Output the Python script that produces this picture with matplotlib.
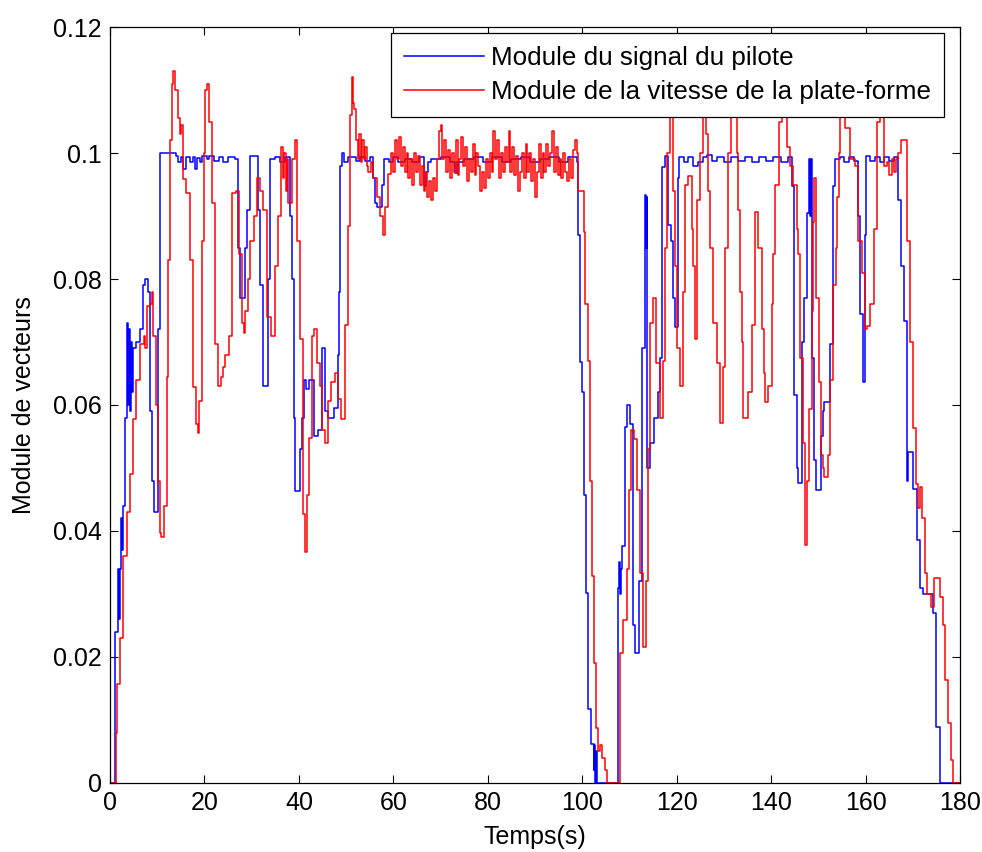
import numpy as np
import matplotlib
matplotlib.use("Agg")
from matplotlib import pyplot as plt

plt.rcParams['font.family'] = ['Liberation Sans', 'DejaVu Sans']

# pilot signal: (time, value) step points
blue_t = [0.0, 1.0, 1.6, 1.9, 2.1, 2.3, 2.6, 2.8, 3.2, 3.6, 3.8, 4.0, 4.2, 4.4, 4.6, 4.8,
          5.6, 6.3, 7.0, 7.4, 8.0, 8.5, 8.8, 9.4, 10.2, 10.6, 13.9, 14.5, 15.0, 15.5,
          16.0, 17.0, 17.5, 18.0, 18.4, 19.0, 19.5, 20.5, 21.0, 22.0, 23.0, 24.0, 25.0,
          26.5, 27.2, 27.5, 28.6, 29.0, 29.7, 31.4, 31.8, 32.3, 33.5, 33.8, 35.0, 36.0,
          37.0, 38.1, 38.5, 38.9, 39.2, 40.2, 40.7, 41.0, 41.5, 42.2, 43.1, 44.0, 44.8,
          45.0, 45.5, 46.2, 47.0, 47.5, 48.3, 48.6, 48.8, 49.2, 49.6, 50.5, 52.0, 53.0,
          54.0, 55.0, 55.8, 56.1, 56.5, 57.5, 58.0, 59.0, 60.0, 61.0, 62.5, 64.0, 65.5,
          66.5, 66.9, 67.3, 68.0, 70.0, 72.0, 73.0, 73.4, 75.0, 77.0, 79.0, 81.0, 83.0,
          85.0, 87.0, 89.0, 91.0, 93.0, 95.0, 97.0, 98.8, 99.2, 99.5, 99.9, 100.4,
          100.8, 101.3, 101.8, 102.4, 102.6, 102.8, 103.0, 103.2, 107.6, 107.8, 108.0,
          108.2, 108.4, 109.1, 109.4, 110.1, 110.7, 111.2, 112.1, 112.6, 113.3, 113.5,
          113.7, 113.8, 114.4, 115.1, 116.0, 116.5, 117.0, 117.5, 118.2, 118.9, 119.3,
          119.6, 120.3, 120.6, 121.5, 122.5, 123.5, 124.5, 125.5, 126.5, 127.5, 128.5,
          130.0, 131.5, 133.0, 134.5, 136.0, 137.5, 139.0, 140.5, 142.0, 143.5, 144.4,
          144.9, 145.4, 145.8, 146.5, 147.0, 147.5, 148.1, 148.3, 148.5, 148.6, 149.0,
          149.6, 150.6, 151.0, 151.3, 152.4, 153.1, 153.5, 154.5, 155.5, 156.5, 157.5,
          158.3, 158.5, 158.8, 159.5, 159.9, 160.1, 161.0, 162.0, 163.0, 164.0, 165.0,
          166.0, 166.9, 167.6, 168.2, 168.7, 169.0, 170.1, 170.8, 171.5, 172.2, 174.3,
          175.0, 175.7, 180.0]
blue_v = [0.0, 0.024, 0.034, 0.026, 0.034, 0.042, 0.037, 0.044, 0.058, 0.073, 0.060, 0.072,
          0.059, 0.070, 0.062, 0.069, 0.070, 0.072, 0.079, 0.080, 0.078, 0.059, 0.048,
          0.043, 0.072, 0.1, 0.0995, 0.0985, 0.0993, 0.0975, 0.0993, 0.0985, 0.0994,
          0.0975, 0.0992, 0.0985, 0.0995, 0.099, 0.0996, 0.0988, 0.0993, 0.0985, 0.0993,
          0.099, 0.085, 0.077, 0.085, 0.091, 0.0995, 0.091, 0.079, 0.063, 0.080, 0.099,
          0.0993, 0.0985, 0.0993, 0.090, 0.080, 0.058, 0.0464, 0.053, 0.058, 0.064,
          0.0625, 0.064, 0.055, 0.056, 0.063, 0.069, 0.059, 0.058, 0.058, 0.0595, 0.068,
          0.078, 0.098, 0.1, 0.0985, 0.0993, 0.0988, 0.0993, 0.0988, 0.0993, 0.096, 0.092,
          0.0914, 0.095, 0.099, 0.0985, 0.0993, 0.0985, 0.099, 0.0985, 0.0993, 0.0947,
          0.097, 0.0985, 0.099, 0.0993, 0.0985, 0.0968, 0.0985, 0.099, 0.0993, 0.0985,
          0.0993, 0.0985, 0.099, 0.0993, 0.0985, 0.099, 0.0993, 0.0985, 0.0993, 0.0985,
          0.087, 0.0668, 0.062, 0.0457, 0.0302, 0.0117, 0.0062, 0.002, 0.006, 0.0, 0.005,
          0.0, 0.031, 0.035, 0.030, 0.034, 0.0376, 0.0565, 0.060, 0.057, 0.025, 0.0206,
          0.032, 0.069, 0.0933, 0.085, 0.093, 0.050, 0.054, 0.058, 0.062, 0.0674, 0.0977,
          0.0995, 0.0886, 0.086, 0.077, 0.0724, 0.096, 0.0993, 0.0985, 0.0993, 0.098,
          0.0985, 0.0993, 0.0997, 0.0988, 0.0993, 0.0985, 0.0993, 0.0988, 0.0993, 0.0985,
          0.0993, 0.0988, 0.0993, 0.0985, 0.0993, 0.0948, 0.0616, 0.050, 0.0476, 0.070,
          0.077, 0.0904, 0.099, 0.090, 0.099, 0.0675, 0.0513, 0.0465, 0.055, 0.059,
          0.0605, 0.0697, 0.0948, 0.099, 0.0993, 0.0985, 0.0993, 0.0988, 0.095, 0.090,
          0.0744, 0.0637, 0.087, 0.0995, 0.0988, 0.0993, 0.0985, 0.0993, 0.0988, 0.0993,
          0.0926, 0.082, 0.0733, 0.048, 0.0526, 0.0467, 0.0385, 0.031, 0.030, 0.027,
          0.0089, 0.0, 0.0]

# platform speed: (time, value) step points
red_t1 = [0.0, 1.2, 1.5, 2.2, 2.8, 3.6, 4.2, 4.9, 5.6, 6.3, 7.1, 7.5, 7.8, 8.5, 8.8, 9.2,
          9.7, 10.2, 10.5, 10.9, 11.5, 12.0, 12.3, 12.7, 13.1, 13.4, 13.8, 14.5, 14.8,
          15.1, 15.5, 16.2, 16.9, 17.6, 18.3, 18.6, 18.8, 19.4, 19.9, 20.2, 20.5, 20.9,
          21.5, 22.2, 22.9, 23.6, 24.0, 24.3, 25.2, 25.9, 26.6, 27.3, 27.9, 28.3, 28.6,
          29.3, 29.7, 30.4, 31.1, 31.8, 32.5, 33.2, 34.2, 34.9, 35.6, 36.3, 36.6, 36.9,
          37.2, 37.5, 37.7, 38.5, 39.1, 39.5, 40.2, 40.8, 41.3, 41.8, 42.2, 42.7, 43.2,
          43.8, 44.5, 45.0, 45.5, 46.2, 46.9, 47.6, 48.3, 49.0, 49.8, 50.3, 50.8, 51.2,
          51.5, 51.7, 52.2, 52.5, 52.8, 53.1, 53.4, 53.7, 54.0, 54.4, 54.7, 55.2, 55.8,
          56.5, 57.2, 57.9, 58.2, 58.9]
red_v1 = [0.0, 0.008, 0.0157, 0.023, 0.036, 0.043, 0.049, 0.0577, 0.064, 0.0697, 0.071,
          0.069, 0.0757, 0.076, 0.078, 0.071, 0.060, 0.048, 0.0397, 0.039, 0.044, 0.0644,
          0.083, 0.102, 0.111, 0.113, 0.110, 0.1056, 0.103, 0.1045, 0.0958, 0.0936, 0.083,
          0.0629, 0.057, 0.0555, 0.0607, 0.0861, 0.100, 0.110, 0.111, 0.105, 0.092,
          0.0697, 0.063, 0.0644, 0.066, 0.068, 0.071, 0.0936, 0.094, 0.084, 0.073, 0.0715,
          0.075, 0.080, 0.086, 0.090, 0.096, 0.094, 0.091, 0.074, 0.071, 0.082, 0.090,
          0.101, 0.096, 0.100, 0.094, 0.099, 0.092, 0.099, 0.102, 0.086, 0.0704, 0.0427,
          0.0367, 0.0457, 0.0547, 0.071, 0.072, 0.0667, 0.063, 0.056, 0.054, 0.0607,
          0.0637, 0.065, 0.061, 0.0577, 0.0727, 0.0884, 0.106, 0.112, 0.108, 0.107, 0.102,
          0.099, 0.103, 0.0985, 0.102, 0.099, 0.101, 0.098, 0.097, 0.0985, 0.096, 0.093,
          0.090, 0.087, 0.0914, 0.0966]

# noisy plateau, sampled every 0.4 s from 59.6 s to 98.8 s
red_plateau_v = [0.100, 0.097, 0.102, 0.099, 0.1025, 0.098, 0.101, 0.097, 0.100,
                 0.096, 0.099, 0.095, 0.100, 0.097, 0.0995, 0.095, 0.098,
                 0.094, 0.097, 0.093, 0.0955, 0.0925, 0.096, 0.094,
                 0.099, 0.1035, 0.1045, 0.099, 0.102, 0.097, 0.1005, 0.096,
                 0.100, 0.097, 0.102, 0.0965, 0.099, 0.1025, 0.098, 0.101, 0.0955, 0.099,
                 0.097, 0.1015, 0.0965, 0.100, 0.098, 0.094, 0.097, 0.0945, 0.099, 0.096,
                 0.100, 0.097, 0.1035, 0.099, 0.102, 0.096, 0.100, 0.097, 0.101, 0.0985,
                 0.1035, 0.097, 0.101, 0.0965, 0.0995, 0.094, 0.097, 0.100, 0.096, 0.1015,
                 0.097, 0.100, 0.0955, 0.099, 0.093, 0.097, 0.1015, 0.096, 0.100, 0.097,
                 0.1015, 0.098, 0.100, 0.1035, 0.097, 0.101, 0.0965, 0.099, 0.096, 0.100,
                 0.097, 0.0955, 0.099, 0.096, 0.1005, 0.102, 0.100]
red_plateau_t = np.linspace(59.6, 98.8, len(red_plateau_v))

red_t2 = [99.2, 99.9, 100.3, 100.6, 101.3, 101.7, 102.0, 102.4, 102.9, 103.4, 103.8, 104.1,
          104.8, 105.3, 108.0, 108.7, 109.4, 109.9, 110.4, 110.9, 111.6, 112.2, 112.9,
          113.6, 113.9, 114.4, 115.0, 115.7, 116.4, 117.1, 117.5, 117.9, 118.6, 119.3,
          119.6, 120.0, 120.7, 121.3, 121.8, 122.5, 123.2, 123.5, 123.9, 124.4, 124.9,
          125.6, 126.3, 126.7, 127.1, 127.8, 128.5, 129.2, 129.9, 130.2, 130.9, 131.6,
          132.7, 133.0, 133.4, 133.8, 134.1, 135.2, 135.9, 136.6, 137.3, 138.0, 138.4,
          138.7, 139.4, 140.1, 140.5, 140.9, 141.6, 142.3, 143.3, 144.0, 144.7, 145.4,
          145.8, 146.1, 146.7, 147.2, 147.7, 148.1, 148.6, 148.8, 149.0, 149.6, 150.1,
          150.6, 151.0, 151.3, 152.0, 152.5, 153.0, 153.7, 154.0, 154.3, 154.6, 155.7,
          156.7, 157.8, 158.5, 159.2, 159.8, 160.3, 161.0, 161.7, 162.4, 163.1, 163.8,
          164.5, 165.0, 165.5, 166.0, 166.5, 166.9, 167.6, 168.7, 169.4, 170.1, 170.6,
          171.0, 171.5, 172.0, 172.6, 173.1, 173.8, 174.5, 175.7, 176.4, 176.8, 177.5,
          178.0, 178.6, 180.0]
red_v2 = [0.094, 0.094, 0.0875, 0.076, 0.067, 0.048, 0.0328, 0.019, 0.0087, 0.005, 0.006,
          0.004, 0.002, 0.0, 0.0206, 0.0258, 0.034, 0.0465, 0.056, 0.0546, 0.0465, 0.0333,
          0.0216, 0.032, 0.053, 0.073, 0.077, 0.0667, 0.058, 0.067, 0.085, 0.100, 0.106,
          0.094, 0.082, 0.069, 0.063, 0.078, 0.095, 0.0964, 0.088, 0.082, 0.0705, 0.0925,
          0.100, 0.108, 0.103, 0.094, 0.085, 0.073, 0.0667, 0.0572, 0.066, 0.085, 0.100,
          0.108, 0.100, 0.091, 0.078, 0.070, 0.058, 0.062, 0.0727, 0.0906, 0.085, 0.072,
          0.065, 0.0605, 0.063, 0.076, 0.084, 0.095, 0.105, 0.108, 0.101, 0.098, 0.095,
          0.088, 0.084, 0.0675, 0.054, 0.0377, 0.048, 0.0593, 0.075, 0.089, 0.096, 0.077,
          0.0636, 0.052, 0.050, 0.0485, 0.052, 0.064, 0.079, 0.085, 0.093, 0.100, 0.107,
          0.104, 0.099, 0.098, 0.086, 0.081, 0.072, 0.0726, 0.076, 0.088, 0.105, 0.107,
          0.098, 0.0985, 0.0965, 0.099, 0.097, 0.099, 0.100, 0.102, 0.086, 0.070, 0.0563,
          0.0474, 0.0437, 0.047, 0.042, 0.0333, 0.030, 0.028, 0.0326, 0.0296, 0.025,
          0.0163, 0.0096, 0.0037, 0.0, 0.0]

red_t = np.concatenate([red_t1, red_plateau_t, red_t2])
red_v = np.concatenate([red_v1, red_plateau_v, red_v2])

fig = plt.figure(figsize=(9.82, 8.52), dpi=100)
ax = fig.add_axes([0.112, 0.081, 0.8656, 0.8873])

ax.plot(blue_t, blue_v, color='blue', lw=1.1, drawstyle='steps-post',
        label='Module du signal du pilote')
ax.plot(red_t, red_v, color='red', lw=1.1, drawstyle='steps-post',
        label='Module de la vitesse de la plate-forme')

ax.set_xlim(0, 180)
ax.set_ylim(0, 0.12)
ax.set_xticks(range(0, 181, 20))
ax.set_yticks([0, 0.02, 0.04, 0.06, 0.08, 0.1, 0.12])
ax.set_yticklabels(['0', '0.02', '0.04', '0.06', '0.08', '0.1', '0.12'])
ax.tick_params(direction='in', top=True, right=True, length=6, width=0.8,
               labelsize=18, pad=6)
for s in ax.spines.values():
    s.set_linewidth(0.9)

ax.set_xlabel('Temps(s)', fontsize=18, labelpad=7)
ax.set_ylabel('Module de vecteurs', fontsize=18, labelpad=12)

leg = ax.legend(loc='upper right', bbox_to_anchor=(0.981, 0.992), borderaxespad=0,
                fontsize=18.7, handlelength=3.1, handletextpad=0.25, labelspacing=0.4,
                fancybox=False, framealpha=1, edgecolor='black', borderpad=0.5)
leg.get_frame().set_linewidth(0.9)
leg.set_zorder(5)

fig.savefig('out.png', dpi=100)
